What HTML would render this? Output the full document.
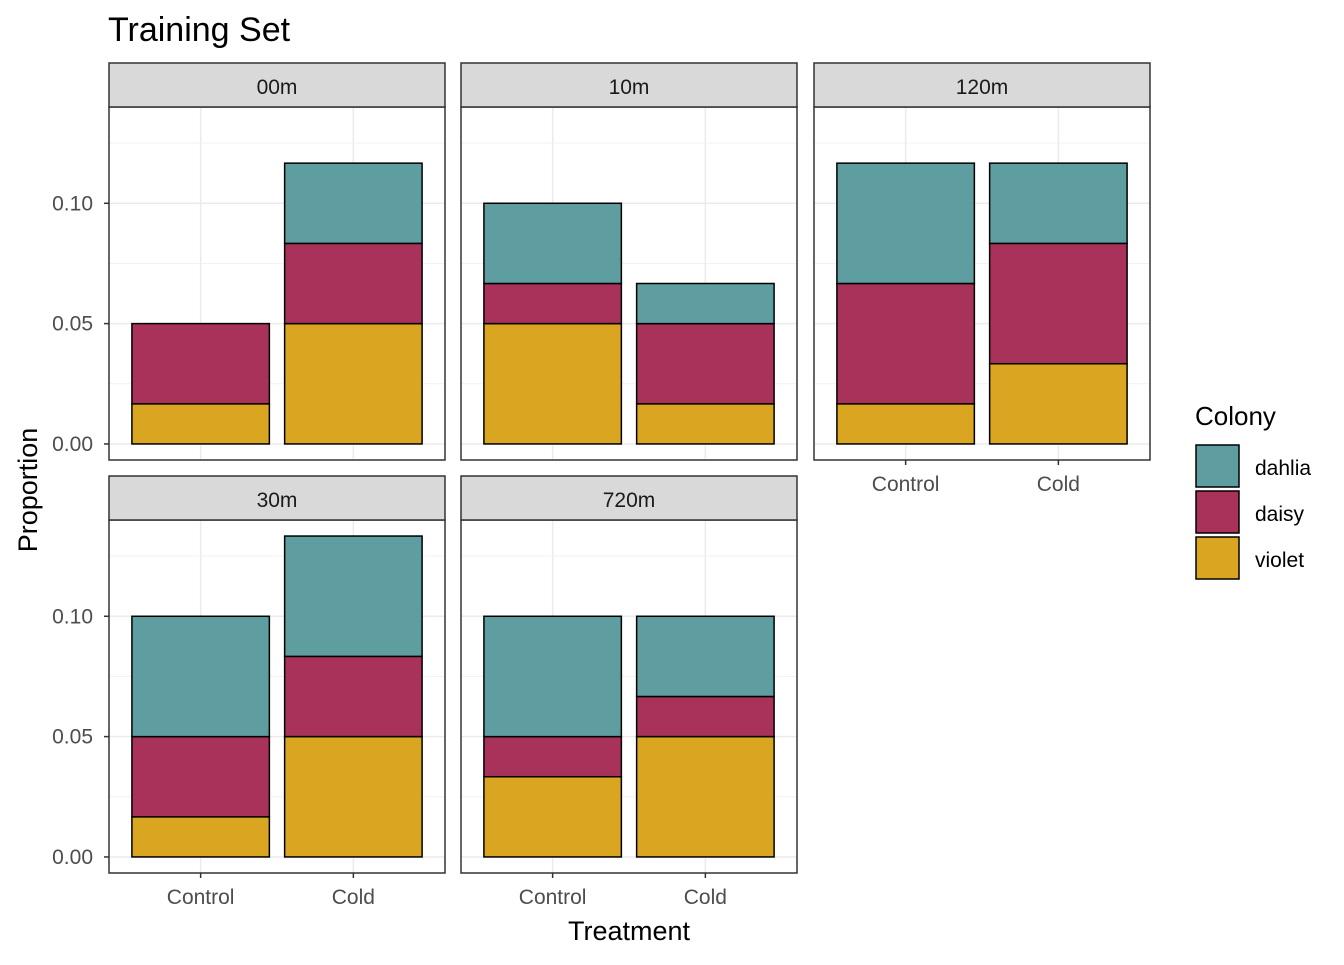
<!DOCTYPE html>
<html><head><meta charset="utf-8"><style>
body{margin:0;background:#fff}
svg text{font-family:"Liberation Sans",Arial,sans-serif}
</style></head><body>
<svg id="chart" width="1344" height="960" xmlns="http://www.w3.org/2000/svg">
<rect width="1344" height="960" fill="#fff"/>
<text x="108" y="41" font-size="34">Training Set</text>
<text transform="translate(37,490) rotate(-90)" text-anchor="middle" font-size="27">Proportion</text>
<text x="629" y="940" text-anchor="middle" font-size="27">Treatment</text>
<g id="plots"></g>
<g>
<text x="1195" y="425" font-size="26">Colony</text>
<rect x="1196" y="445" width="43" height="42" fill="#5F9EA0" stroke="#000" stroke-width="1.5"/>
<text x="1255" y="475" font-size="21">dahlia</text>
<rect x="1196" y="491" width="43" height="42" fill="#A8325A" stroke="#000" stroke-width="1.5"/>
<text x="1255" y="521" font-size="21">daisy</text>
<rect x="1196" y="537" width="43" height="42" fill="#DAA520" stroke="#000" stroke-width="1.5"/>
<text x="1255" y="567" font-size="21">violet</text>
</g>
</svg>
<script>
const panels = ["00m","10m","120m","30m","720m"];
const categories = ["Control","Cold"];
const violet = [[1/60,3/60],[3/60,1/60],[1/60,2/60],[1/60,3/60],[2/60,3/60]];
const daisy  = [[2/60,2/60],[1/60,2/60],[3/60,3/60],[2/60,2/60],[1/60,1/60]];
const dahlia = [[0,2/60],[2/60,1/60],[3/60,2/60],[3/60,3/60],[3/60,2/60]];
const yTicks = [0,0.05,0.10];
const yTickLabels = ["0.00","0.05","0.10"];
const yMinor = [0.025,0.075,0.125];

const NS="http://www.w3.org/2000/svg";
const g=document.getElementById('plots');
function mk(tag,attrs,parent){const e=document.createElementNS(NS,tag);for(const k in attrs)e.setAttribute(k,attrs[k]);(parent||g).appendChild(e);return e;}
const layout=[[109,63],[461,63],[814,63],[109,476],[461,476]];
const PW=336,SH=44,PH=353;
const yMin=-0.00667,yMax=0.14;
const series=[["violet",violet,"#DAA520"],["daisy",daisy,"#A8325A"],["dahlia",dahlia,"#5F9EA0"]];
panels.forEach((p,i)=>{
  const [px,sy]=layout[i];const top=sy+SH;
  const ys=v=>top+PH-(v-yMin)/(yMax-yMin)*PH;
  const xs=v=>px+(v-0.4)/2.2*PW;
  const pg=mk('g',{});
  
  
  mk('rect',{x:px,y:top,width:PW,height:PH,fill:'#fff'},pg);
  yMinor.forEach(t=>mk('line',{x1:px,x2:px+PW,y1:ys(t),y2:ys(t),stroke:'#f2f2f2','stroke-width':1},pg));
  yTicks.forEach(t=>mk('line',{x1:px,x2:px+PW,y1:ys(t),y2:ys(t),stroke:'#ebebeb','stroke-width':1.5},pg));
  categories.forEach((c,j)=>mk('line',{x1:xs(j+1),x2:xs(j+1),y1:top,y2:top+PH,stroke:'#ebebeb','stroke-width':1.5},pg));
  categories.forEach((c,j)=>{
    let base=0;
    series.forEach(([name,arr,col])=>{
      const v=arr[i][j];if(v<=0)return;
      const r=mk('rect',{x:xs(j+1)-0.45*PW/2.2,width:0.9*PW/2.2,y:ys(base+v),height:ys(base)-ys(base+v),fill:col,stroke:'#000','stroke-width':1.5},pg);
      
      
      base+=v;
    });
  });
  mk('rect',{x:px,y:top,width:PW,height:PH,fill:'none',stroke:'#333','stroke-width':1.5},pg);
  const st=mk('rect',{x:px,y:sy,width:PW,height:SH,fill:'#d9d9d9',stroke:'#333','stroke-width':1.5},pg);
  
  
  const tl=mk('text',{x:px+PW/2,y:sy+31,'text-anchor':'middle','font-size':21,fill:'#1a1a1a'},pg);
  tl.textContent=p;
  
  
  if(px===109){
    yTicks.forEach((t,k)=>{
      mk('line',{x1:px-5,x2:px,y1:ys(t),y2:ys(t),stroke:'#333','stroke-width':1.5},pg);
      const tt=mk('text',{x:px-16,y:ys(t)+7,'text-anchor':'end','font-size':21,fill:'#4d4d4d'},pg);
      tt.textContent=yTickLabels[k];
      
      
    });
  }
  if(i>=2){
    categories.forEach((c,j)=>{
      mk('line',{x1:xs(j+1),x2:xs(j+1),y1:top+PH,y2:top+PH+5,stroke:'#333','stroke-width':1.5},pg);
      const tt=mk('text',{x:xs(j+1),y:top+PH+31,'text-anchor':'middle','font-size':21,fill:'#4d4d4d'},pg);
      tt.textContent=c;
      
      
    });
  }
});
</script>
</body></html>
